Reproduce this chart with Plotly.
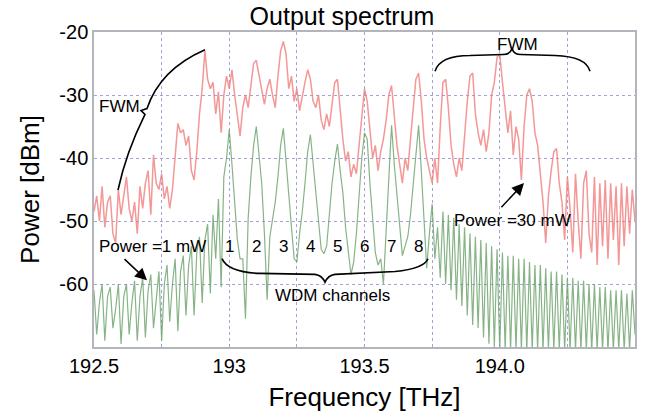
import numpy as np
import plotly.graph_objects as go

# ---------------- data ----------------
# sampling grid of the spectrum analyser trace, 0.01 THz steps
FREQ_START, FREQ_STEP, N_POINTS = 192.50, 0.01, 201
freq = np.round(FREQ_START + FREQ_STEP * np.arange(N_POINTS), 2)

# Power = 30 mW trace (dBm)
power_30mw = [
    -48.5, -46, -50, -44.5, -51, -47, -46, -52, -53.5, -45,
    -49, -46, -43, -48, -50, -47, -52, -44.5, -48, -44,
    -42, -49, -39.5, -44, -45, -42.5, -46.5, -44.5, -48, -45,
    -39, -34.5, -36, -35.5, -38, -36.5, -42, -43.5, -39, -33,
    -29, -23, -27.5, -29, -28, -33, -29.5, -36, -30, -27,
    -29, -26, -30, -33, -36.5, -32, -30, -32, -28, -25,
    -24.5, -27, -29, -31.5, -29, -27.5, -30, -32, -27, -23,
    -21.5, -23.5, -29, -27, -31, -29, -32.5, -30, -28, -26,
    -27.5, -31, -32, -30, -34, -35.5, -33, -35, -31, -28,
    -27.5, -33, -37, -40.5, -39, -43, -41, -42.5, -38, -33,
    -29, -31, -36, -40, -38, -42, -39, -37, -34, -30,
    -28.5, -33, -38, -41, -44, -40, -42, -37, -32, -27.5,
    -26.5, -31, -37, -40, -42, -44, -40, -44, -35, -28,
    -27.5, -32, -38, -41, -43, -40, -42, -36, -31, -27,
    -26.5, -33, -36, -38, -35.5, -39, -36, -30, -28, -24,
    -23.5, -28, -32, -36, -32.5, -39.5, -35, -37, -43.5, -35,
    -30, -29, -31, -36, -38, -42, -47, -53.5, -46, -42,
    -39, -38.5, -44, -47, -53, -43, -48, -55, -42.5, -50,
    -56, -44, -42, -52, -55, -43, -57, -44, -54, -43.5,
    -56, -44, -53, -44.5, -57, -44, -54, -44.5, -52, -45,
    -50,
]

# Power = 1 mW trace (dBm)
power_1mw = [
    -61, -68, -63, -60, -69, -62, -60.5, -67, -64, -60,
    -69.5, -62, -60, -68, -63, -59.5, -69, -62, -59, -68.5,
    -61, -58.5, -67, -63, -58, -69, -60, -57, -66, -60,
    -56, -67.5, -58, -55.5, -65, -57, -54, -65, -55, -52.5,
    -63, -53, -50.5, -61.5, -49, -56, -46.5, -60.5, -43, -40,
    -35.5, -41, -46.5, -53, -56, -56, -65.5, -49.5, -43, -38,
    -35, -40, -44, -52, -62.5, -52.5, -50, -47, -43, -38,
    -35.3, -41, -46, -51, -56, -56.5, -52, -48.5, -44, -39,
    -36.3, -41, -45.5, -50, -54.5, -55.2, -54, -49, -44, -40.5,
    -37.8, -42, -45.5, -51, -55, -58.5, -56.5, -52, -46, -40,
    -36, -37, -44, -50, -55, -57, -56, -60, -52, -44,
    -34.8, -41, -46, -51, -55.5, -54, -52.5, -49, -44, -39,
    -34.8, -42, -50, -57.5, -52, -47.3, -56, -51, -59, -48.5,
    -60, -49, -61, -49.5, -62.5, -50.5, -63.5, -51, -65, -52,
    -66.5, -52.5, -67, -53, -68.5, -53.5, -69.5, -54, -70, -54.5,
    -70.5, -55, -70.5, -55.5, -70.5, -55.5, -70.5, -56, -70.5, -56,
    -70.5, -56.5, -70.5, -57, -70.5, -57, -70.5, -57.5, -70.5, -58,
    -70.5, -58, -70.5, -58.5, -70.5, -59, -70.5, -59, -70.5, -59.5,
    -70.5, -59.5, -70.5, -60, -70.5, -60, -70.5, -60.5, -70.5, -60.5,
    -70.5, -61, -70.5, -61, -70.5, -61, -70.5, -61.5, -70.5, -61,
    -68,
]

# WDM channels
channel_freqs = [193.0, 193.1, 193.2, 193.3, 193.4, 193.5, 193.6, 193.7]
channel_labels = ["1", "2", "3", "4", "5", "6", "7", "8"]

# axis ticks
x_tickvals = [192.5, 192.75, 193.0, 193.25, 193.5, 193.75, 194.0, 194.25, 194.5]
x_ticktext = ["192.5", "", "193", "", "193.5", "", "194.0", "", ""]
y_tickvals = [-70, -60, -50, -40, -30, -20]
y_ticktext = ["", "-60", "-50", "-40", "-30", "-20"]

# ---------------- layout helpers ----------------
W, H = 652, 419
# plot box in page pixels
L, R, T, B = 94, 635, 32, 353
X0, X1, Y0, Y1 = 192.5, 194.5, -70, -20


def fx(px):
    return X0 + (px - L) / (R - L) * (X1 - X0)


def fy(py):
    return Y1 - (py - T) / (B - T) * (Y1 - Y0)


def path(cmds):
    out = []
    for c in cmds:
        op, pts = c[0], c[1:]
        out.append(op + " " + " ".join(f"{fx(a):.5f},{fy(b):.4f}" for a, b in pts))
    return " ".join(out)


FONT = "Liberation Sans, Arial, sans-serif"

fig = go.Figure()
fig.add_trace(go.Scatter(x=freq, y=power_30mw, mode="lines",
                         line=dict(color="rgba(240,125,125,0.8)", width=1.5),
                         name="Power = 30 mW", hoverinfo="x+y"))
fig.add_trace(go.Scatter(x=freq, y=power_1mw, mode="lines",
                         line=dict(color="rgba(105,160,105,0.8)", width=1.2),
                         name="Power = 1 mW", hoverinfo="x+y"))

brace_line = dict(color="black", width=1.6)
shapes = [
    # left FWM brace
    dict(type="path", xref="x", yref="y", line=brace_line,
         path=path([("M", (118, 193)), ("Q", (126, 155), (145, 116)),
                    ("L", (141, 112)), ("L", (147, 110)),
                    ("Q", (160, 70), (205, 50))])),
    # top-right FWM brace
    dict(type="path", xref="x", yref="y", line=brace_line,
         path=path([("M", (435, 72)), ("Q", (440, 56), (470, 56)),
                    ("L", (503, 55)), ("Q", (510, 55), (512, 49)),
                    ("Q", (514, 55), (521, 55)), ("L", (555, 56)),
                    ("Q", (586, 57), (590, 72))])),
    # WDM channels brace
    dict(type="path", xref="x", yref="y", line=brace_line,
         path=path([("M", (222, 263)), ("Q", (228, 277), (260, 278)),
                    ("L", (315, 279)), ("Q", (322, 280), (325, 287)),
                    ("Q", (328, 280), (335, 279)), ("L", (395, 276)),
                    ("Q", (424, 273), (428, 263))])),
]

txt = dict(family=FONT, size=17, color="black")
annotations = [
    dict(x=fx(119), y=fy(108), text="FWM", showarrow=False, font=txt),
    dict(x=fx(517), y=fy(45), text="FWM", showarrow=False, font=txt),
    dict(x=fx(152), y=fy(251), text="Power =1 mW", showarrow=False, font=txt),
    dict(x=fx(512), y=fy(224), text="Power =30 mW", showarrow=False, font=txt),
    dict(x=fx(332), y=fy(301), text="WDM channels", showarrow=False, font=txt),
    # arrows
    dict(x=fx(147), y=fy(285), ax=fx(123), ay=fy(262), axref="x", ayref="y",
         text="", showarrow=True, arrowhead=2, arrowsize=1.6, arrowwidth=1.5,
         arrowcolor="black"),
    dict(x=fx(524), y=fy(186), ax=fx(500), ay=fy(212), axref="x", ayref="y",
         text="", showarrow=True, arrowhead=2, arrowsize=1.6, arrowwidth=1.5,
         arrowcolor="black"),
]
for f, lab in zip(channel_freqs, channel_labels):
    annotations.append(dict(x=f, y=fy(251), text=lab, showarrow=False, font=txt))

fig.update_layout(
    width=W, height=H,
    margin=dict(l=L, r=W - R, t=T, b=H - B),
    paper_bgcolor="white", plot_bgcolor="white",
    showlegend=False,
    font=dict(family=FONT, color="black"),
    title=dict(text="Output spectrum", x=342 / W, xanchor="center",
               y=1 - 16 / H, yanchor="middle",
               font=dict(family=FONT, size=25, color="black")),
    xaxis=dict(range=[X0, X1], tickvals=x_tickvals, ticktext=x_ticktext,
               showgrid=True, gridcolor="#a4a4d4", griddash="dot", gridwidth=1,
               showline=True, mirror=True, linecolor="#b4b4bc", linewidth=1.5,
               ticks="", zeroline=False,
               tickfont=dict(family=FONT, size=20, color="black"),
               title=dict(text="Frequency [THz]", standoff=12,
                          font=dict(family=FONT, size=26, color="black"))),
    yaxis=dict(range=[Y0, Y1], tickvals=y_tickvals, ticktext=y_ticktext,
               showgrid=True, gridcolor="#a4a4d4", griddash="dot", gridwidth=1,
               showline=True, mirror=True, linecolor="#b4b4bc", linewidth=1.5,
               ticks="", zeroline=False,
               tickfont=dict(family=FONT, size=20, color="black"),
               title=dict(text="Power [dBm]", standoff=12,
                          font=dict(family=FONT, size=26, color="black"))),
    shapes=shapes,
    annotations=annotations,
)

# remove the default 8 px page margin so the 652x419 figure fills the window
fig.write_html("out.html",
               config={"displayModeBar": False},
               post_script="document.body.style.margin='0';"
                           "document.body.style.overflow='hidden';")
